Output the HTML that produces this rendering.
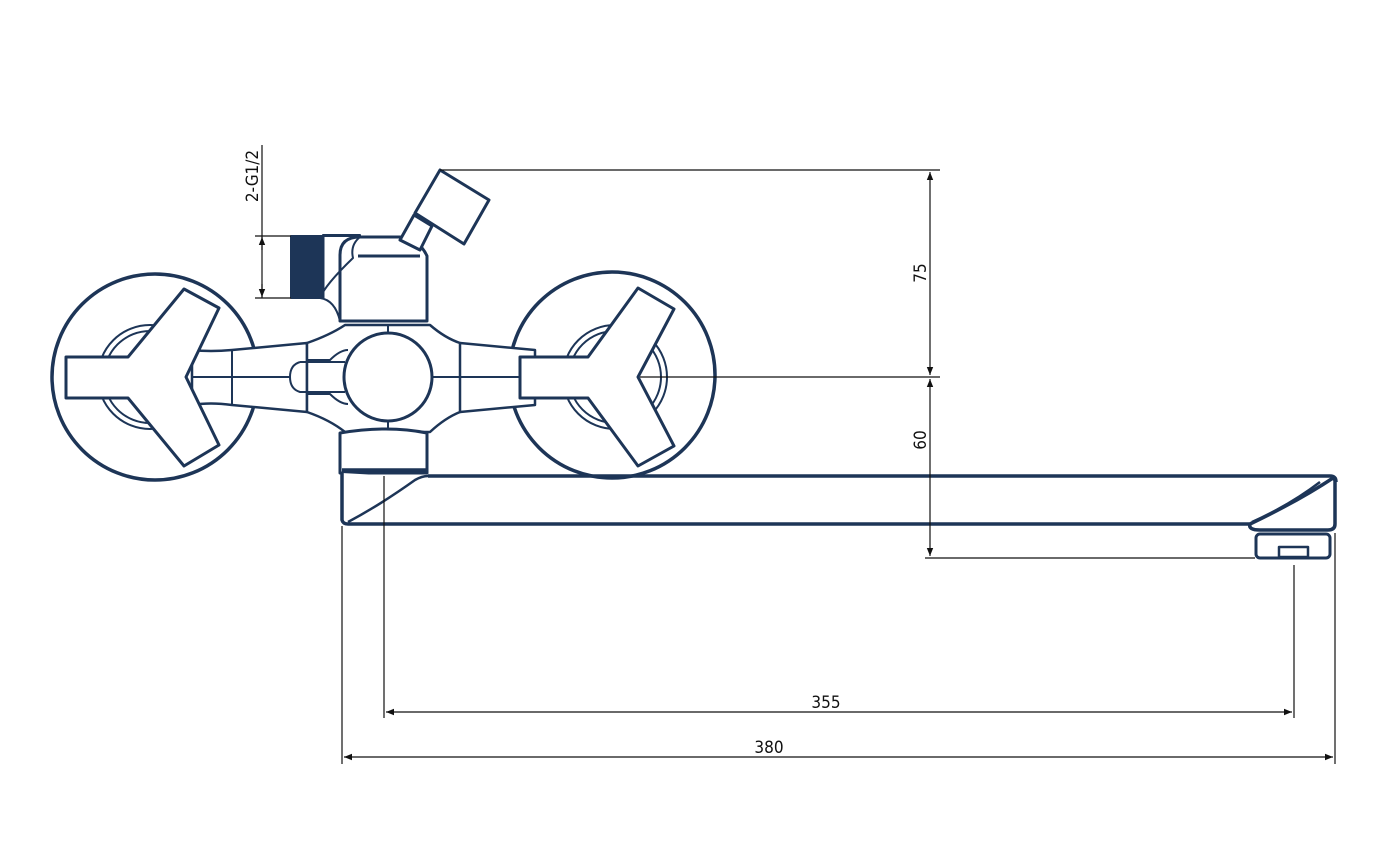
<!DOCTYPE html>
<html><head><meta charset="utf-8"><style>
html,body{margin:0;padding:0;background:#fff;}
svg{display:block;}
text{font-family:"DejaVu Sans Condensed","Liberation Sans",sans-serif;font-size:17px;fill:#111;}
</style></head><body>
<svg width="1373" height="859" viewBox="0 0 1373 859" xmlns="http://www.w3.org/2000/svg">
<defs>
<marker id="a" viewBox="0 0 10 10" refX="10" refY="5" markerWidth="12" markerHeight="8" markerUnits="userSpaceOnUse" orient="auto-start-reverse"><path d="M0,1 L10,5 L0,9 z" fill="#111"/></marker>
</defs>
<g fill="none" stroke="#1d3557" stroke-width="3.5" stroke-linejoin="round">
<!-- rosettes -->
<circle cx="155" cy="377" r="103"/>
<circle cx="612" cy="375" r="103"/>
<!-- rings -->
<g stroke-width="2">
<circle cx="150" cy="377" r="52"/><circle cx="150" cy="377" r="46"/>
<circle cx="615" cy="377" r="52"/><circle cx="615" cy="377" r="46"/>
</g>
<!-- arms -->
<g stroke-width="2.5" fill="#fff">
<path d="M192,350 Q210,352 232,350 L307,343 L307,412 L232,405 Q210,402 192,405 Z"/>
<path d="M427,343 L460,343 L535,350 L535,405 L460,412 L427,412 Z"/>
<path d="M307,343 Q330,335 345,325 L430,325 Q445,338 460,343 L460,412 Q445,418 430,432 L345,432 Q330,420 307,412 Z"/>
</g>
<g stroke-width="2">
<line x1="232" y1="350" x2="232" y2="405"/>
<line x1="192" y1="377" x2="290" y2="377"/>
<line x1="427" y1="377" x2="535" y2="377"/>
<line x1="388" y1="325" x2="388" y2="333"/>
<line x1="388" y1="421" x2="388" y2="433"/>
<path d="M307,360 L330,360 Q340,350 348,350"/>
<path d="M307,394 L330,394 Q340,404 348,404"/>
<path d="M300,362 Q290,365 290,377 Q290,389 300,392 L345,392"/>
<path d="M300,362 L345,362"/>
</g>
<circle cx="388" cy="377" r="44" fill="#fff" stroke-width="3"/>
<!-- handles -->
<path fill="#fff" stroke-width="3" d="M66,357 L128,357 L184,289 L219,308 L186,377 L219,445 L184,466 L128,398 L66,398 Z"/>
<path fill="#fff" stroke-width="3" d="M520,357 L588,357 L638,288 L674,309 L638,377 L674,446 L638,466 L588,398 L520,398 Z"/>
<!-- diverter body -->
<path fill="#fff" stroke-width="3" d="M340,321 L340,255 Q340,237 360,237 L400,237 Q420,240 427,256 L427,321 Z"/>
<line x1="358" y1="256" x2="420" y2="256" stroke-width="3"/>
<path stroke-width="2" d="M360,237 Q350,245 353,258 Q325,285 320,298 Q335,300 340,321"/>
<rect x="323" y="235" width="37" height="1" stroke-width="2"/>
<rect x="291" y="236" width="32" height="62" fill="#1d3557" stroke-width="2"/>
<line x1="323" y1="236" x2="323" y2="298" stroke-width="3"/>
<!-- lever -->
<path fill="#fff" stroke-width="3" d="M400,240 L414,215 L432,226 L420,250 Z"/>
<path fill="#fff" stroke-width="3" d="M440,170 L489,200 L464,244 L415,213 Z"/>
<!-- lower box -->
<path fill="#fff" stroke-width="3" d="M340,433 Q388,425 427,433 L427,473 L340,473 Z"/>
<line x1="342" y1="470" x2="428" y2="470" stroke-width="3.5"/>
<!-- spout -->
<path fill="#fff" stroke-width="3.5" d="M342,473 L342,520 Q343,524 348,524 L1250,524 Q1300,500 1333,478 L1335,480 L1335,524 Q1335,530 1328,530 L1260,530 Q1248,530 1250,524"/>
<path stroke-width="3.5" d="M428,476 L1330,476 Q1336,476 1336,482"/>
<path stroke-width="2.5" d="M348,522 Q380,505 415,480 Q422,476 428,476"/>
<path stroke-width="2.5" d="M1252,522 Q1290,505 1320,482"/>
<!-- aerator -->
<rect x="1256" y="534" width="74" height="24" rx="4" stroke-width="3"/>
<rect x="1279" y="547" width="29" height="10" stroke-width="2.5"/>
</g>
<!-- dimensions -->
<g stroke="#111" stroke-width="1.2" fill="none">
<line x1="440" y1="170" x2="940" y2="170"/>
<line x1="640" y1="377" x2="940" y2="377"/>
<line x1="925" y1="558" x2="1255" y2="558"/>
<line x1="930" y1="172" x2="930" y2="375" marker-start="url(#a)" marker-end="url(#a)"/>
<line x1="930" y1="379" x2="930" y2="556" marker-start="url(#a)" marker-end="url(#a)"/>
<line x1="384" y1="476" x2="384" y2="718"/>
<line x1="1294" y1="565" x2="1294" y2="718"/>
<line x1="386" y1="712" x2="1292" y2="712" marker-start="url(#a)" marker-end="url(#a)"/>
<line x1="342" y1="526" x2="342" y2="764"/>
<line x1="1335" y1="533" x2="1335" y2="764"/>
<line x1="344" y1="757" x2="1333" y2="757" marker-start="url(#a)" marker-end="url(#a)"/>
<line x1="262" y1="145" x2="262" y2="298"/>
<line x1="255" y1="236" x2="291" y2="236"/>
<line x1="255" y1="298" x2="291" y2="298"/>
<line x1="262" y1="250" x2="262" y2="237" marker-end="url(#a)"/>
<line x1="262" y1="284" x2="262" y2="297" marker-end="url(#a)"/>
</g>
<text x="826" y="708" text-anchor="middle">355</text>
<text x="769" y="753" text-anchor="middle">380</text>
<text transform="translate(926,273) rotate(-90)" text-anchor="middle">75</text>
<text transform="translate(926,440) rotate(-90)" text-anchor="middle">60</text>
<text transform="translate(258,176) rotate(-90)" text-anchor="middle">2-G1/2</text>
</svg>
</body></html>
